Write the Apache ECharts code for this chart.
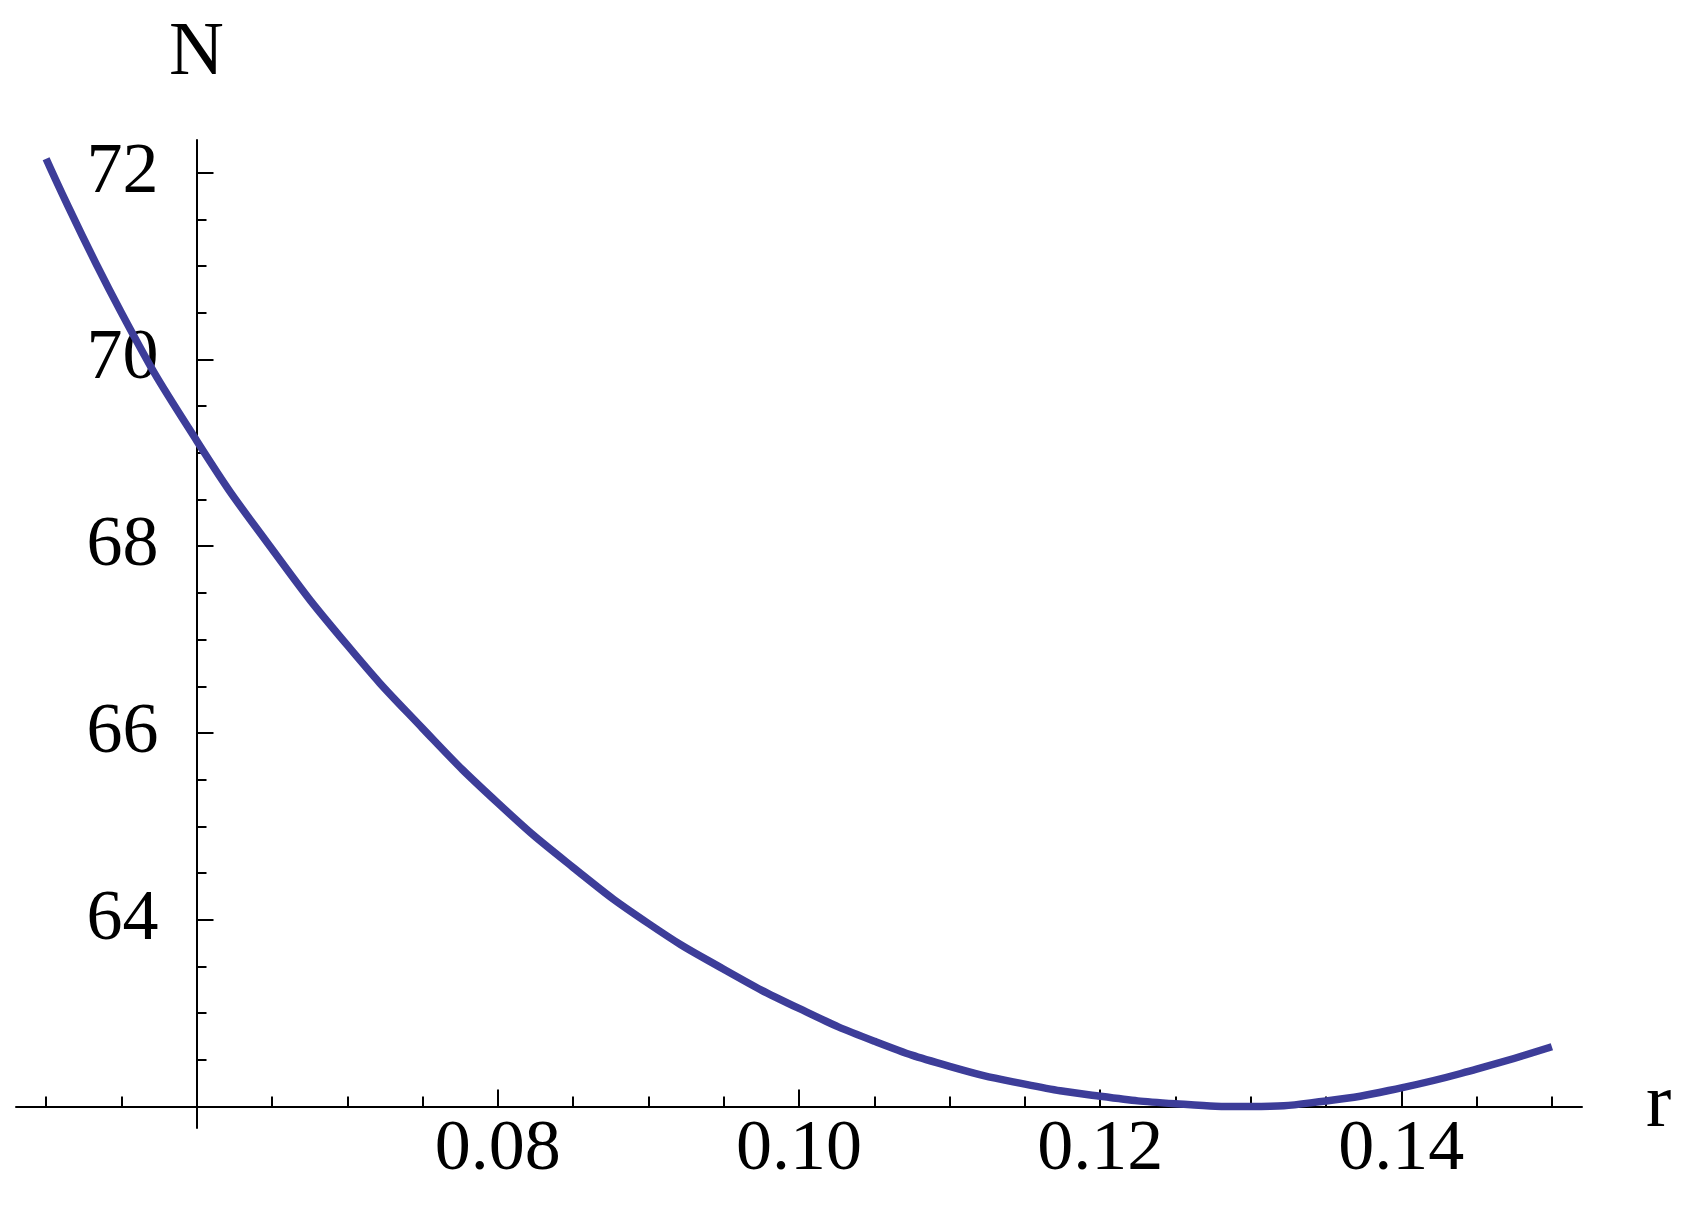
<!DOCTYPE html>
<html lang="en">
  <head>
    <meta charset="UTF-8" />
    <title>N vs r</title>
    <script src="https://cdn.jsdelivr.net/npm/echarts@6/dist/echarts.min.js"></script>
  </head>
  <style>
    html,
    body {
      margin: 0;
      padding: 0;
      background: #fff;
    }
    #echart {
      width: 1693px;
      height: 1229px;
    }
  </style>
  <body>
    <div id="echart"></div>
  </body>
  <script>
    // values, every 0.005 in r
    const rValues = [
      0.05, 0.055, 0.06, 0.065, 0.07, 0.075, 0.08, 0.085, 0.09, 0.095, 0.1,
      0.105, 0.11, 0.115, 0.12, 0.125, 0.13, 0.135, 0.14, 0.145, 0.15,
    ];
    const nValues = [
      72.15, 70.5, 69.13, 67.97, 66.94, 66.05, 65.25, 64.56, 63.96, 63.47,
      63.05, 62.7, 62.43, 62.24, 62.11, 62.03, 62.0, 62.06, 62.2, 62.4, 62.64,
    ];

    const xMajorTicks = [0.08, 0.1, 0.12, 0.14];
    const xMinorTicks = [
      0.05, 0.055, 0.065, 0.07, 0.075, 0.085, 0.09, 0.095, 0.105, 0.11, 0.115,
      0.125, 0.13, 0.135, 0.145, 0.15,
    ];
    const yMajorTicks = [64, 66, 68, 70, 72];
    const yMinorTicks = [
      62.5, 63, 63.5, 64.5, 65, 65.5, 66.5, 67, 67.5, 68.5, 69, 69.5, 70.5, 71,
      71.5,
    ];

    const chart = echarts.init(document.getElementById("echart"));

    const font = "'Liberation Serif', 'Times New Roman', serif";
    const xOffset = -21.5; // x axis sits at N = 62
    const yOffset = -180.5; // y axis sits at r = 0.06

    const xBase = {
      type: "value",
      min: 0.048,
      max: 0.152,
      position: "bottom",
      offset: xOffset,
      splitLine: { show: false },
      axisLine: { onZero: false, lineStyle: { color: "#000", width: 2 } },
    };
    const yBase = {
      type: "value",
      min: 61.77,
      max: 72.35,
      position: "left",
      offset: yOffset,
      splitLine: { show: false },
      axisLine: { onZero: false, lineStyle: { color: "#000", width: 2 } },
    };

    var option = {
      animation: false,
      backgroundColor: "#fff",
      grid: {
        left: 16,
        right: 111,
        top: 140,
        bottom: 101,
        containLabel: false,
        outerBoundsMode: "none",
      },
      xAxis: [
        {
          ...xBase,
          name: "r",
          nameLocation: "end",
          nameGap: 64,
          nameTextStyle: { fontFamily: font, fontSize: 76, color: "#000" },
          axisTick: {
            show: true,
            inside: true,
            length: 17,
            customValues: xMajorTicks,
            lineStyle: { color: "#000", width: 2 },
          },
          axisLabel: {
            show: true,
            customValues: xMajorTicks,
            margin: 8,
            fontFamily: font,
            fontSize: 72,
            color: "#000",
            formatter: (v) => v.toFixed(2),
          },
        },
        {
          ...xBase,
          axisLine: { show: false, onZero: false },
          axisTick: {
            show: true,
            inside: true,
            length: 10,
            customValues: xMinorTicks,
            lineStyle: { color: "#000", width: 2 },
          },
          axisLabel: { show: false },
        },
      ],
      yAxis: [
        {
          ...yBase,
          name: "N",
          nameLocation: "end",
          nameGap: 48,
          nameTextStyle: {
            fontFamily: font,
            fontSize: 76,
            color: "#000",
            align: "center",
          },
          axisTick: {
            show: true,
            inside: true,
            length: 17,
            customValues: yMajorTicks,
            lineStyle: { color: "#000", width: 2 },
          },
          axisLabel: {
            show: true,
            customValues: yMajorTicks,
            margin: 38,
            fontFamily: font,
            fontSize: 72,
            color: "#000",
          },
        },
        {
          ...yBase,
          axisLine: { show: false, onZero: false },
          axisTick: {
            show: true,
            inside: true,
            length: 10,
            customValues: yMinorTicks,
            lineStyle: { color: "#000", width: 2 },
          },
          axisLabel: { show: false },
        },
      ],
      series: [
        {
          name: "N",
          type: "line",
          xAxisIndex: 0,
          yAxisIndex: 0,
          smooth: true,
          showSymbol: false,
          lineStyle: { color: "#3d3d99", width: 7.5 },
          data: rValues.map((r, i) => [r, nValues[i]]),
        },
      ],
    };

    chart.setOption(option);
  </script>
</html>
